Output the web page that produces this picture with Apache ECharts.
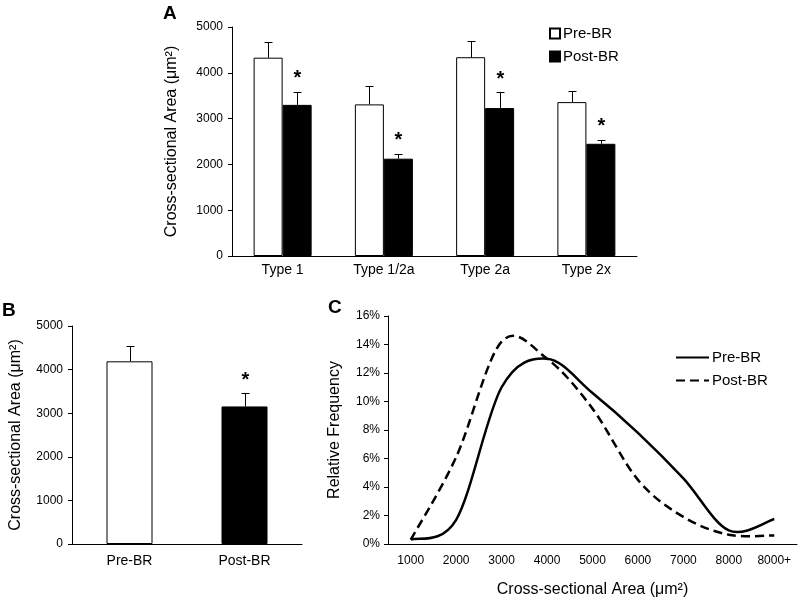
<!DOCTYPE html>
<html>
<head>
<meta charset="utf-8">
<script src="https://cdn.jsdelivr.net/npm/echarts@6/dist/echarts.min.js"></script>
<style>
html,body{margin:0;padding:0;background:#fff;}
#chart{width:800px;height:601px;}
</style>
</head>
<body>
<div id="chart"></div>
<script>
// ---- Panel A data ----
const typeCategories = ['Type 1', 'Type 1/2a', 'Type 2a', 'Type 2x'];
const typePreMean = [4330, 3310, 4340, 3360];
const typePreSD = [340, 405, 360, 250];
const typePostMean = [3300, 2125, 3230, 2450];
const typePostSD = [290, 110, 345, 90];
const typePostSig = [1, 1, 1, 1];
const yTicksArea = [0, 1000, 2000, 3000, 4000, 5000];

// ---- Panel B data ----
const overallCategories = ['Pre-BR', 'Post-BR'];
const overallMean = [4190, 3155];
const overallSD = [360, 300];
const overallSig = [0, 1];

// ---- Panel C data ----
const areaBins = ['1000', '2000', '3000', '4000', '5000', '6000', '7000', '8000', '8000+'];
const freqPre = [0.3, 1.7, 11.0, 13.0, 10.6, 7.8, 4.6, 0.95, 1.75];
const freqPost = [0.3, 6.1, 14.2, 13.0, 9.5, 4.5, 1.9, 0.65, 0.6];
const freqTicks = [0, 2, 4, 6, 8, 10, 12, 14, 16];

const FONT = 'Liberation Sans, Arial, sans-serif';
const chart = echarts.init(document.getElementById('chart'), null, {renderer: 'canvas'});

function errRender(offsetPx) {
  return function (params, api) {
    const x = api.value(0), mean = api.value(1), sd = api.value(2), sig = api.value(3);
    const p0 = api.coord([x, mean]);
    const p1 = api.coord([x, mean + sd]);
    const cx = Math.round(p0[0] + offsetPx) + 0.5;
    const cy = Math.round(p1[1]) + 0.5;
    const children = [
      {type: 'line', shape: {x1: cx, y1: p0[1], x2: cx, y2: cy}, style: {stroke: '#000', lineWidth: 1}},
      {type: 'line', shape: {x1: cx - 4, y1: cy, x2: cx + 4, y2: cy}, style: {stroke: '#000', lineWidth: 1}}
    ];
    if (sig) {
      children.push({type: 'text', style: {text: '*', x: cx, y: p1[1] - 13, align: 'center', verticalAlign: 'middle', font: 'bold 20px ' + FONT, fill: '#000'}});
    }
    return {type: 'group', children: children};
  };
}

// Excel-like smoothed curve (Catmull-Rom through the data points, via the axis scales)
function curveRender(values, dash) {
  return function (params, api) {
    const pts = values.map((v, i) => api.coord([i, v]));
    let d = 'M' + pts[0][0] + ' ' + pts[0][1];
    for (let i = 0; i < pts.length - 1; i++) {
      const p0 = pts[Math.max(i - 1, 0)], p1 = pts[i], p2 = pts[i + 1], p3 = pts[Math.min(i + 2, pts.length - 1)];
      const c1x = p1[0] + (p2[0] - p0[0]) / 6, c1y = p1[1] + (p2[1] - p0[1]) / 6;
      const c2x = p2[0] - (p3[0] - p1[0]) / 6, c2y = p2[1] - (p3[1] - p1[1]) / 6;
      d += ' C' + c1x + ' ' + c1y + ' ' + c2x + ' ' + c2y + ' ' + p2[0] + ' ' + p2[1];
    }
    return {
      type: 'path',
      shape: {pathData: d},
      style: {fill: null, stroke: '#000', lineWidth: 2.5, lineDash: dash, lineCap: 'butt', lineJoin: 'round'}
    };
  };
}

const axisLineStyle = {lineStyle: {color: '#000', width: 1}};
const labelStyle = {color: '#000', fontFamily: FONT};

const option = {
  animation: false,
  backgroundColor: '#fff',
  textStyle: {fontFamily: FONT},
  grid: [
    {left: 232, top: 27, width: 405, height: 229, outerBoundsMode: 'none'},
    {left: 72, top: 326, width: 230, height: 218, outerBoundsMode: 'none'},
    {left: 388, top: 316, width: 409, height: 228, outerBoundsMode: 'none'}
  ],
  legend: [
    {
      orient: 'vertical', left: 544, top: 21, itemWidth: 10, itemHeight: 10, itemGap: 8,
      icon: 'rect', data: ['Pre-BR', 'Post-BR'],
      textStyle: {fontSize: 15, color: '#000', fontFamily: FONT, padding: [0, 0, 0, -2]}
    },
    {
      orient: 'vertical', left: 670, top: 345, itemWidth: 33, itemHeight: 14, itemGap: 8,
      data: ['C-Pre', 'C-Post'],
      formatter: function (n) { return n === 'C-Pre' ? 'Pre-BR' : 'Post-BR'; },
      itemStyle: {opacity: 0},
      lineStyle: {opacity: 1},
      textStyle: {fontSize: 15, color: '#000', fontFamily: FONT, padding: [0, 0, 0, -2]}
    }
  ],
  graphic: [
    {type: 'text', left: 163, top: 4, style: {text: 'A', font: 'bold 19px ' + FONT, fill: '#000'}},
    {type: 'text', left: 2, top: 301, style: {text: 'B', font: 'bold 19px ' + FONT, fill: '#000'}},
    {type: 'text', left: 328, top: 298, style: {text: 'C', font: 'bold 19px ' + FONT, fill: '#000'}}
  ],
  xAxis: [
    {
      gridIndex: 0, type: 'category', data: typeCategories,
      axisLine: axisLineStyle, axisTick: {length: 4, lineStyle: {color: '#000'}},
      axisLabel: Object.assign({fontSize: 14, margin: 7}, labelStyle)
    },
    {
      gridIndex: 1, type: 'category', data: overallCategories,
      axisLine: axisLineStyle, axisTick: {length: 4, lineStyle: {color: '#000'}},
      axisLabel: Object.assign({fontSize: 14, margin: 10}, labelStyle)
    },
    {
      gridIndex: 2, type: 'category', data: areaBins, boundaryGap: true,
      axisLine: axisLineStyle, axisTick: {length: 4, lineStyle: {color: '#000'}},
      axisLabel: Object.assign({fontSize: 12, margin: 11, interval: 0}, labelStyle),
      name: 'Cross-sectional Area (μm²)', nameLocation: 'middle', nameGap: 38,
      nameTextStyle: {fontSize: 16, color: '#000', fontFamily: FONT}
    }
  ],
  yAxis: [
    {
      gridIndex: 0, type: 'value', min: yTicksArea[0], max: yTicksArea[yTicksArea.length - 1], interval: 1000,
      axisLine: {show: true, lineStyle: {color: '#000'}}, axisTick: {show: true, length: 4, lineStyle: {color: '#000'}},
      splitLine: {show: false},
      axisLabel: Object.assign({fontSize: 12, margin: 9, formatter: function (v) { return String(v); }}, labelStyle),
      name: 'Cross-sectional Area (μm²)', nameLocation: 'middle', nameGap: 52,
      nameTextStyle: {fontSize: 16, color: '#000', fontFamily: FONT}
    },
    {
      gridIndex: 1, type: 'value', min: yTicksArea[0], max: yTicksArea[yTicksArea.length - 1], interval: 1000,
      axisLine: {show: true, lineStyle: {color: '#000'}}, axisTick: {show: true, length: 4, lineStyle: {color: '#000'}},
      splitLine: {show: false},
      axisLabel: Object.assign({fontSize: 12, margin: 9, formatter: function (v) { return String(v); }}, labelStyle),
      name: 'Cross-sectional Area (μm²)', nameLocation: 'middle', nameGap: 48,
      nameTextStyle: {fontSize: 16, color: '#000', fontFamily: FONT}
    },
    {
      gridIndex: 2, type: 'value', min: freqTicks[0], max: freqTicks[freqTicks.length - 1], interval: 2,
      axisLine: {show: true, lineStyle: {color: '#000'}}, axisTick: {show: true, length: 4, lineStyle: {color: '#000'}},
      splitLine: {show: false},
      axisLabel: Object.assign({fontSize: 12, margin: 8, formatter: '{value}%'}, labelStyle),
      name: 'Relative Frequency', nameLocation: 'middle', nameGap: 45,
      nameTextStyle: {fontSize: 16, color: '#000', fontFamily: FONT}
    }
  ],
  series: [
    {
      name: 'Pre-BR', type: 'bar', xAxisIndex: 0, yAxisIndex: 0, data: typePreMean,
      barWidth: 29, barGap: '0%',
      itemStyle: {color: '#fff', borderColor: '#000', borderWidth: 1}
    },
    {
      name: 'Post-BR', type: 'bar', xAxisIndex: 0, yAxisIndex: 0, data: typePostMean,
      barWidth: 29, barGap: '0%',
      itemStyle: {color: '#000', borderColor: '#000', borderWidth: 1}
    },
    {
      type: 'custom', xAxisIndex: 0, yAxisIndex: 0, z: 5,
      renderItem: errRender(-14.5),
      data: typeCategories.map((c, i) => [i, typePreMean[i], typePreSD[i], 0])
    },
    {
      type: 'custom', xAxisIndex: 0, yAxisIndex: 0, z: 5,
      renderItem: errRender(14.5),
      data: typeCategories.map((c, i) => [i, typePostMean[i], typePostSD[i], typePostSig[i]])
    },
    {
      name: 'Overall', type: 'bar', xAxisIndex: 1, yAxisIndex: 1, barWidth: 46,
      data: overallMean.map((v, i) => ({value: v, itemStyle: {color: i === 0 ? '#fff' : '#000'}})),
      itemStyle: {borderColor: '#000', borderWidth: 1}
    },
    {
      type: 'custom', xAxisIndex: 1, yAxisIndex: 1, z: 5,
      renderItem: errRender(0),
      data: overallCategories.map((c, i) => [i, overallMean[i], overallSD[i], overallSig[i]])
    },
    // legend carriers for panel C (invisible lines, real values)
    {
      name: 'C-Pre', type: 'line', xAxisIndex: 2, yAxisIndex: 2, data: freqPre, silent: true,
      symbol: 'none', lineStyle: {color: '#000', width: 2.5, opacity: 0}, itemStyle: {color: '#000'}
    },
    {
      name: 'C-Post', type: 'line', xAxisIndex: 2, yAxisIndex: 2, data: freqPost, silent: true,
      symbol: 'none', lineStyle: {color: '#000', width: 2.5, type: [9, 5], opacity: 0}, itemStyle: {color: '#000'}
    },
    {
      type: 'custom', xAxisIndex: 2, yAxisIndex: 2, z: 4, clip: true,
      renderItem: curveRender(freqPre, null),
      data: [[0, freqPre[0]]]
    },
    {
      type: 'custom', xAxisIndex: 2, yAxisIndex: 2, z: 4, clip: true,
      renderItem: curveRender(freqPost, [9, 5]),
      data: [[0, freqPost[0]]]
    }
  ]
};
chart.setOption(option);
</script>
</body>
</html>
